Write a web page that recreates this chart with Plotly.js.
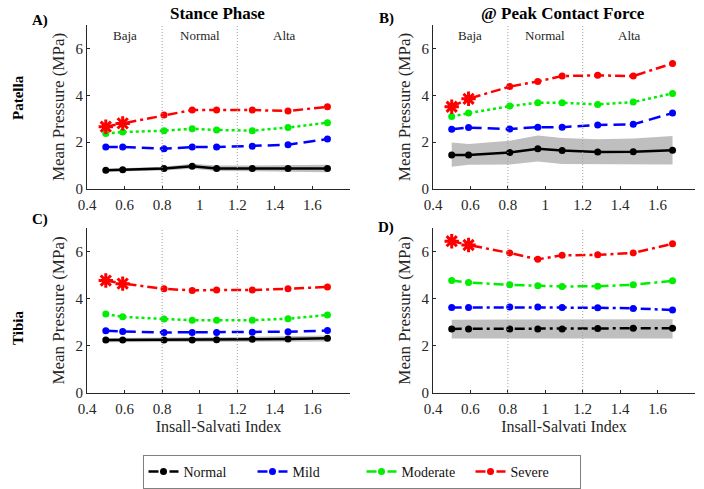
<!DOCTYPE html>
<html><head><meta charset="utf-8">
<script src="https://cdn.plot.ly/plotly-3.0.1.min.js"></script>
<style>html,body{margin:0;padding:0;background:#fff}#chart{width:704px;height:489px}</style>
</head><body><div id="chart"></div>
<script>
const isIndex = [0.5, 0.59, 0.81, 0.96, 1.09, 1.28, 1.47, 1.68];
const seriesNames = ['Normal', 'Mild', 'Moderate', 'Severe'];
const sigIdx = [0, 1];
const xTicks = [0.4, 0.6, 0.8, 1, 1.2, 1.4, 1.6];
const xTickText = ['0.4', '0.6', '0.8', '1', '1.2', '1.4', '1.6'];
const yTicks = [0, 2, 4, 6];
const regionBounds = [0.8, 1.2];
const regionLabels = ['Baja', 'Normal', 'Alta'];
const regionX = [0.6, 1.0, 1.45];

// A) Patella, Stance Phase
const aNormal   = [0.80, 0.82, 0.87, 0.97, 0.88, 0.88, 0.88, 0.88];
const aNormalHi = [0.86, 0.89, 0.95, 1.08, 1.00, 1.00, 1.02, 1.04];
const aNormalLo = [0.74, 0.75, 0.79, 0.86, 0.77, 0.76, 0.74, 0.72];
const aMild     = [1.79, 1.79, 1.72, 1.79, 1.79, 1.83, 1.89, 2.13];
const aModerate = [2.37, 2.43, 2.49, 2.57, 2.52, 2.49, 2.62, 2.83];
const aSevere   = [2.66, 2.80, 3.16, 3.37, 3.37, 3.37, 3.33, 3.51];
// B) Patella, Peak Contact Force
const bNormal   = [1.45, 1.45, 1.56, 1.72, 1.64, 1.58, 1.59, 1.65];
const bNormalHi = [1.98, 1.92, 2.06, 2.28, 2.18, 2.12, 2.16, 2.26];
const bNormalLo = [0.95, 1.04, 1.05, 1.17, 1.07, 1.07, 1.07, 1.05];
const bMild     = [2.55, 2.62, 2.56, 2.64, 2.64, 2.73, 2.76, 3.24];
const bModerate = [3.09, 3.24, 3.54, 3.68, 3.68, 3.61, 3.71, 4.08];
const bSevere   = [3.51, 3.85, 4.37, 4.59, 4.82, 4.85, 4.82, 5.36];
// C) Tibia, Stance Phase
const cNormal   = [2.25, 2.25, 2.25, 2.25, 2.26, 2.28, 2.29, 2.32];
const cNormalHi = [2.33, 2.33, 2.34, 2.35, 2.36, 2.38, 2.40, 2.44];
const cNormalLo = [2.15, 2.15, 2.15, 2.15, 2.15, 2.16, 2.17, 2.18];
const cMild     = [2.64, 2.61, 2.57, 2.57, 2.57, 2.58, 2.60, 2.65];
const cModerate = [3.35, 3.23, 3.14, 3.09, 3.09, 3.09, 3.15, 3.31];
const cSevere   = [4.77, 4.64, 4.42, 4.35, 4.37, 4.37, 4.42, 4.50];
// D) Tibia, Peak Contact Force
const dNormal   = [2.72, 2.72, 2.72, 2.72, 2.72, 2.74, 2.75, 2.75];
const dNormalHi = [3.11, 3.11, 3.11, 3.11, 3.11, 3.12, 3.13, 3.13];
const dNormalLo = [2.31, 2.31, 2.31, 2.31, 2.31, 2.31, 2.31, 2.31];
const dMild     = [3.63, 3.63, 3.65, 3.65, 3.63, 3.62, 3.59, 3.52];
const dModerate = [4.77, 4.69, 4.59, 4.55, 4.52, 4.53, 4.59, 4.76];
const dSevere   = [6.44, 6.28, 5.94, 5.67, 5.84, 5.86, 5.94, 6.33];

const colors = ['#000000', '#0000ff', '#00ee00', '#ff0000'];
const FONT = 'Liberation Serif';
const TXT = '#262626';
const DD = '10px,4px,3px,4px';

const panels = [
  {ax: '', data: [aNormal, aMild, aModerate, aSevere], lo: aNormalLo, hi: aNormalHi, dashes: ['solid', '12px,6px', 'dot', DD], legend: false},
  {ax: '2', data: [bNormal, bMild, bModerate, bSevere], lo: bNormalLo, hi: bNormalHi, dashes: ['solid', '12px,6px', 'dot', DD], legend: false},
  {ax: '3', data: [cNormal, cMild, cModerate, cSevere], lo: cNormalLo, hi: cNormalHi, dashes: ['solid', '12px,6px', 'dot', DD], legend: false},
  {ax: '4', data: [dNormal, dMild, dModerate, dSevere], lo: dNormalLo, hi: dNormalHi, dashes: [DD, DD, DD, DD], legend: true}
];

const traces = [];
panels.forEach(p => {
  const xa = 'x' + p.ax, ya = 'y' + p.ax;
  traces.push({x: isIndex, y: p.lo, xaxis: xa, yaxis: ya, mode: 'lines', line: {width: 0, color: 'rgba(0,0,0,0)'}, showlegend: false, hoverinfo: 'skip'});
  traces.push({x: isIndex, y: p.hi, xaxis: xa, yaxis: ya, mode: 'lines', line: {width: 0, color: 'rgba(0,0,0,0)'}, fill: 'tonexty', fillcolor: '#bfbfbf', showlegend: false, hoverinfo: 'skip'});
  [3, 2, 1, 0].forEach(i => {
    traces.push({x: isIndex, y: p.data[i], xaxis: xa, yaxis: ya, mode: 'lines+markers', name: seriesNames[i],
      line: {color: colors[i], width: 2.5, dash: p.dashes[i]}, marker: {color: colors[i], size: 7, symbol: 'circle'},
      showlegend: p.legend, legendrank: i + 1});
  });
  traces.push({x: sigIdx.map(k => isIndex[k]), y: sigIdx.map(k => p.data[3][k]), xaxis: xa, yaxis: ya, mode: 'markers',
    marker: {symbol: 'asterisk-open', size: 12, color: colors[3], line: {color: colors[3], width: 3}}, showlegend: false});
});

const xL = [87/704, 350/704], xR = [433/704, 695/704];
const yT = [1 - 189/489, 1 - 25/489], yB = [1 - 393/489, 1 - 228/489];
function xaxis(domain, anchor, withTitle) {
  const a = {domain: domain, anchor: anchor, range: [0.4, 1.8], tickvals: xTicks, ticktext: xTickText,
    showline: true, linecolor: TXT, linewidth: 1, ticks: 'inside', ticklen: 3, tickcolor: TXT, ticklabelstandoff: 2,
    showgrid: false, zeroline: false, tickfont: {family: FONT, size: 15, color: TXT}};
  if (withTitle) a.title = {text: 'Insall-Salvati Index', font: {family: FONT, size: 16, color: TXT}, standoff: 4};
  return a;
}
function yaxis(domain, anchor) {
  return {domain: domain, anchor: anchor, range: [0, 7], tickvals: yTicks,
    showline: true, linecolor: TXT, linewidth: 1, ticks: 'inside', ticklen: 3, tickcolor: TXT,
    showgrid: false, zeroline: false, tickfont: {family: FONT, size: 15, color: TXT},
    title: {text: 'Mean Pressure (MPa)', font: {family: FONT, size: 17, color: TXT}, standoff: 6}};
}

const shapes = [];
['', '2', '3', '4'].forEach(ax => {
  regionBounds.forEach(b => shapes.push({type: 'line', xref: 'x' + ax, yref: 'y' + ax + ' domain', x0: b, x1: b, y0: 0, y1: 1,
    line: {color: '#a0a0a0', width: 1, dash: '1px,2px'}}));
});

const annotations = [];
['', '2'].forEach(ax => {
  regionLabels.forEach((t, i) => annotations.push({xref: 'x' + ax, yref: 'y' + ax, x: regionX[i], y: 6.55, text: t, showarrow: false,
    font: {family: FONT, size: 13, color: TXT}}));
});
const bold = (t, x, y, size, extra) => Object.assign({xref: 'paper', yref: 'paper', x: x / 704, y: 1 - y / 489, text: '<b>' + t + '</b>',
  xanchor: 'center', yanchor: 'middle', showarrow: false, font: {family: FONT, size: size, color: '#000'}}, extra || {});
annotations.push(bold('Stance Phase', 218, 14, 17));
annotations.push(bold('@ Peak Contact Force', 563, 14, 17));
annotations.push(bold('A)', 40, 20, 15));
annotations.push(bold('B)', 386, 19, 15));
annotations.push(bold('C)', 40, 219, 15));
annotations.push(bold('D)', 386, 227, 15));
annotations.push(bold('Patella', 18, 98, 15, {textangle: -90}));
annotations.push(bold('Tibia', 18, 328, 15, {textangle: -90}));

const layout = {
  width: 704, height: 489, margin: {l: 0, r: 0, t: 0, b: 0}, paper_bgcolor: '#fff', plot_bgcolor: '#fff',
  font: {family: FONT, color: TXT},
  xaxis: xaxis(xL, 'y', false), yaxis: yaxis(yT, 'x'),
  xaxis2: xaxis(xR, 'y2', false), yaxis2: yaxis(yT, 'x2'),
  xaxis3: xaxis(xL, 'y3', true), yaxis3: yaxis(yB, 'x3'),
  xaxis4: xaxis(xR, 'y4', true), yaxis4: yaxis(yB, 'x4'),
  shapes: shapes, annotations: annotations,
  legend: {orientation: 'h', x: 361.5 / 704, xanchor: 'center', y: 1 - 455 / 489, yanchor: 'top',
    bordercolor: '#808080', borderwidth: 1, font: {family: FONT, size: 14, color: '#111'}, entrywidth: 64, traceorder: 'normal'},
  showlegend: true
};
Plotly.newPlot('chart', traces, layout, {displayModeBar: false, staticPlot: true});
</script></body></html>
